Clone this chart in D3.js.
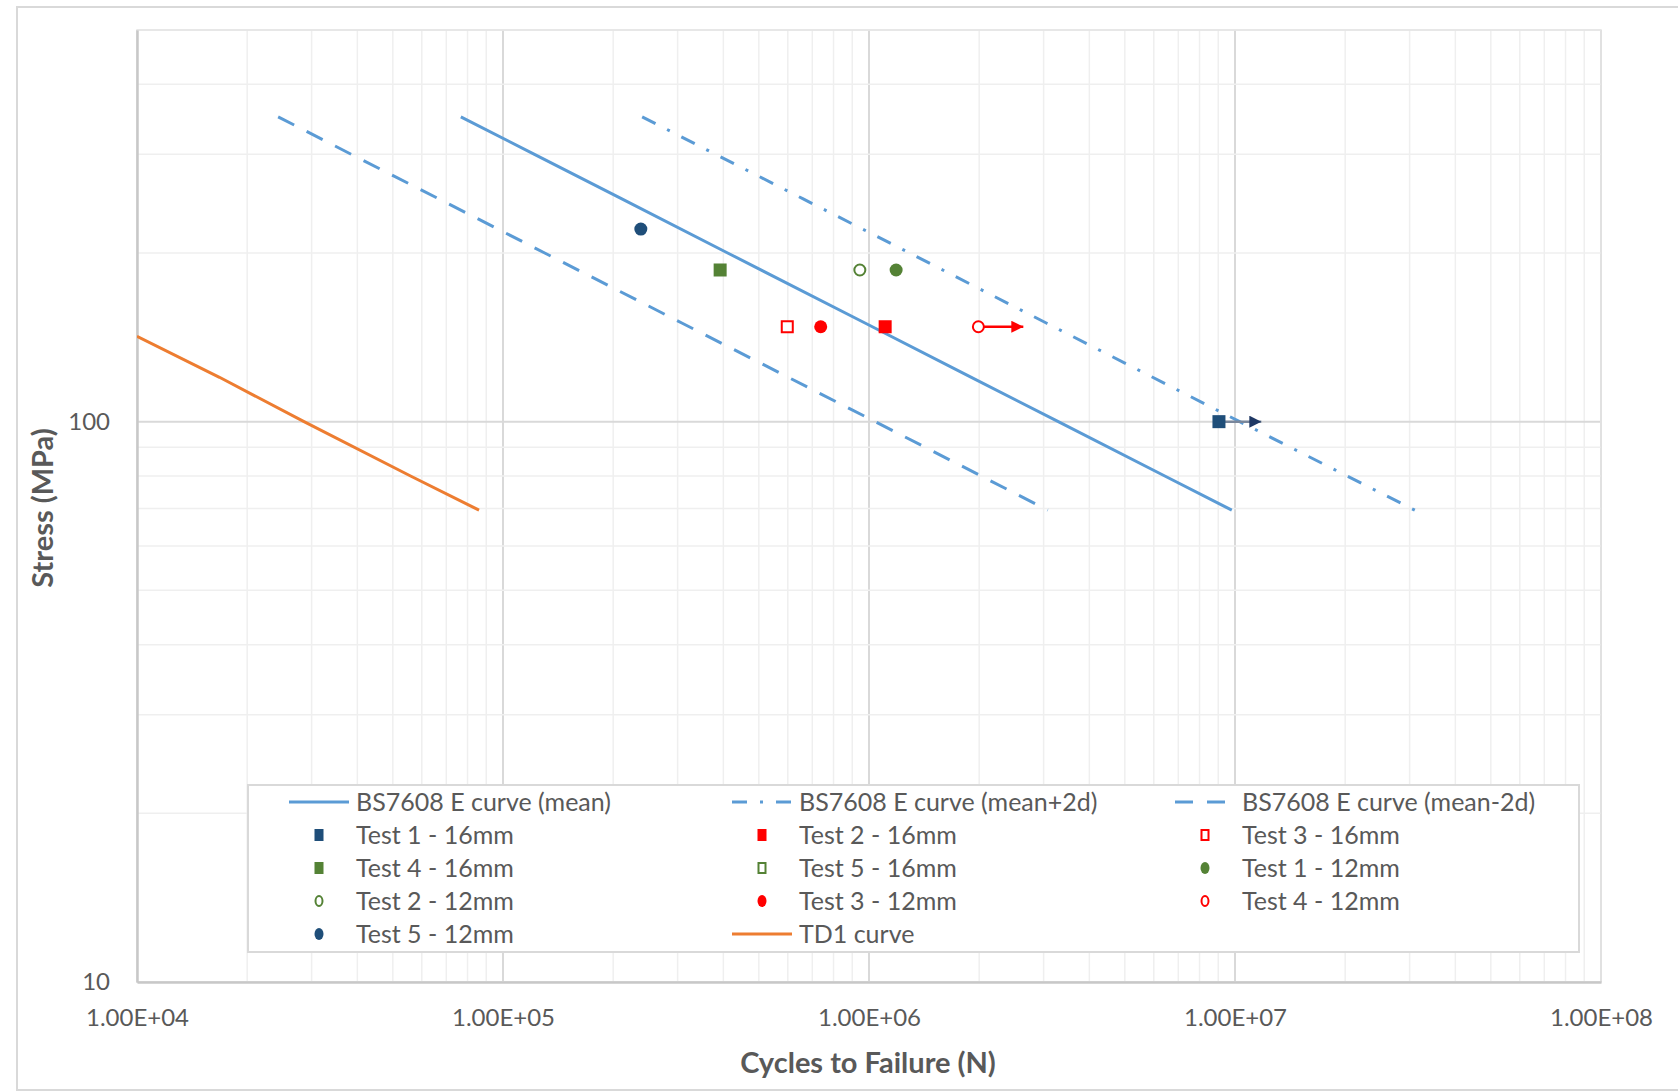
<!DOCTYPE html>
<html>
<head>
<meta charset="utf-8">
<script src="https://cdn.jsdelivr.net/npm/d3@7"></script>
<style>
  body { margin: 0; background: #fff; }
  text { font-family: Lato, "Open Sans", sans-serif; fill: #595959; }
</style>
</head>
<body>
<svg id="chart" width="1678" height="1092"></svg>
<script>
// S-N curves: cycles N against stress range S (MPa)
var meanN = [7.67e4, 1.219e5, 2.106e5, 4.11e5, 9.75e5, 1.904e6, 3.29e6, 6.43e6, 9.8e6];
var meanS = [350, 300, 250, 200, 150, 120, 100, 80, 69.5];
var plus2dN = [2.40e5, 3.81e5, 6.59e5, 1.29e6, 3.05e6, 1.03e7, 3.1e7];
var plus2dS = [350, 300, 250, 200, 150, 100, 69.5];
var minus2dN = [2.43e4, 3.85e4, 6.66e4, 1.30e5, 3.08e5, 1.04e6, 3.08e6];
var minus2dS = [350, 300, 250, 200, 150, 100, 69.5];
var td1N = [1.0e4, 1.68e4, 2.86e4, 5.59e4, 8.6e4];
var td1S = [142, 120, 100, 80, 69.5];

// test results (Test 5 - 16mm has no point on the chart)
var testNames = ['Test 1 - 16mm', 'Test 2 - 16mm', 'Test 3 - 16mm', 'Test 4 - 16mm', 'Test 5 - 16mm',
                 'Test 1 - 12mm', 'Test 2 - 12mm', 'Test 3 - 12mm', 'Test 4 - 12mm', 'Test 5 - 12mm'];
var testN = [9.04e6, 1.107e6, 5.98e5, 3.92e5, null, 1.186e6, 9.44e5, 7.38e5, 1.99e6, 2.38e5];
var testS = [100, 147.7, 147.7, 186.5, null, 186.5, 186.5, 147.7, 147.7, 220.6];

// run-outs: arrow from the test point to this N
var runoutNames = ['Test 1 - 16mm', 'Test 4 - 12mm'];
var runoutToN = [1.18e7, 2.64e6];

var xTicks = [1e4, 1e5, 1e6, 1e7, 1e8];
var yTicks = [10, 100];

var navy = '#1f4e79', green = '#548235', red = '#ff0000';
var blue = '#5b9bd5', orange = '#ed7d31';

var markerStyle = {
  'Test 1 - 16mm': { shape: 'square', color: navy, fill: true },
  'Test 2 - 16mm': { shape: 'square', color: red, fill: true },
  'Test 3 - 16mm': { shape: 'square', color: red, fill: false },
  'Test 4 - 16mm': { shape: 'square', color: green, fill: true },
  'Test 5 - 16mm': { shape: 'square', color: green, fill: false },
  'Test 1 - 12mm': { shape: 'circle', color: green, fill: true },
  'Test 2 - 12mm': { shape: 'circle', color: green, fill: false },
  'Test 3 - 12mm': { shape: 'circle', color: red, fill: true },
  'Test 4 - 12mm': { shape: 'circle', color: red, fill: false },
  'Test 5 - 12mm': { shape: 'circle', color: navy, fill: true }
};

var curves = [
  { name: 'BS7608 E curve (mean)', N: meanN, S: meanS, color: blue, dash: null },
  { name: 'BS7608 E curve (mean+2d)', N: plus2dN, S: plus2dS, color: blue, dash: '15,13,3,13' },
  { name: 'BS7608 E curve (mean-2d)', N: minus2dN, S: minus2dS, color: blue, dash: '18,14' },
  { name: 'TD1 curve', N: td1N, S: td1S, color: orange, dash: null }
];

var legendOrder = ['BS7608 E curve (mean)', 'BS7608 E curve (mean+2d)', 'BS7608 E curve (mean-2d)',
  'Test 1 - 16mm', 'Test 2 - 16mm', 'Test 3 - 16mm',
  'Test 4 - 16mm', 'Test 5 - 16mm', 'Test 1 - 12mm',
  'Test 2 - 12mm', 'Test 3 - 12mm', 'Test 4 - 12mm',
  'Test 5 - 12mm', 'TD1 curve'];

var svg = d3.select('#chart');

// outer chart frame
svg.append('rect')
  .attr('x', 17).attr('y', 7)
  .attr('width', 1700).attr('height', 1083)
  .attr('fill', '#fff').attr('stroke', '#d9d9d9').attr('stroke-width', 2);

var plotLeft = 137, plotRight = 1601, plotTop = 30, plotBottom = 982;

var x = d3.scaleLog().domain([1e4, 1e8]).range([plotLeft, plotRight]);
var y = d3.scaleLog().domain([10, 500]).range([plotBottom, plotTop]);

function isMajor(v) {
  return Math.abs(Math.log10(v) - Math.round(Math.log10(v))) < 1e-9;
}

// grid
var grid = svg.append('g');
grid.selectAll('.vx')
  .data(x.ticks())
  .enter().append('line')
  .attr('x1', d => x(d)).attr('x2', d => x(d))
  .attr('y1', plotTop).attr('y2', plotBottom)
  .attr('stroke', d => isMajor(d) ? '#d9d9d9' : '#efefef')
  .attr('stroke-width', d => isMajor(d) ? 2 : 1.5);
grid.selectAll('.hy')
  .data(y.ticks())
  .enter().append('line')
  .attr('x1', plotLeft).attr('x2', plotRight)
  .attr('y1', d => y(d)).attr('y2', d => y(d))
  .attr('stroke', d => isMajor(d) ? '#d9d9d9' : '#efefef')
  .attr('stroke-width', d => isMajor(d) ? 2 : 1.5);

grid.append('rect')
  .attr('x', plotLeft).attr('y', plotTop)
  .attr('width', plotRight - plotLeft).attr('height', plotBottom - plotTop)
  .attr('fill', 'none').attr('stroke', '#e3e3e3').attr('stroke-width', 1.5);

// axes
function sciFormat(d) {
  var p = d.toExponential(2).split('e');
  var e = +p[1];
  return p[0] + 'E' + (e < 0 ? '-' : '+') + String(Math.abs(e)).padStart(2, '0');
}

var xAxis = svg.append('g')
  .attr('transform', 'translate(0,' + plotBottom + ')')
  .call(d3.axisBottom(x).tickValues(xTicks).tickFormat(sciFormat).tickSize(0).tickPadding(27));
var yAxis = svg.append('g')
  .attr('transform', 'translate(' + plotLeft + ',0)')
  .call(d3.axisLeft(y).tickValues(yTicks).tickFormat(d3.format('d')).tickSize(0).tickPadding(27));

[xAxis, yAxis].forEach(function (a) {
  a.select('.domain').attr('stroke', '#c8c8c8').attr('stroke-width', 2.5);
  a.selectAll('text').style('font-size', '24px').attr('fill', '#595959');
});
xAxis.selectAll('text').attr('dy', '0.71em');

svg.append('text')
  .attr('x', 868).attr('y', 1073)
  .attr('text-anchor', 'middle')
  .style('font-size', '29px').style('font-weight', 'bold')
  .text('Cycles to Failure (N)');

svg.append('text')
  .attr('transform', 'translate(53,508) rotate(-90)')
  .attr('text-anchor', 'middle')
  .style('font-size', '29px').style('font-weight', 'bold')
  .text('Stress (MPa)');

// curves
svg.append('clipPath').attr('id', 'plot-clip')
  .append('rect').attr('x', plotLeft).attr('y', plotTop)
  .attr('width', plotRight - plotLeft).attr('height', plotBottom - plotTop);

var line = d3.line().x(d => x(d[0])).y(d => y(d[1]));

var plot = svg.append('g').attr('clip-path', 'url(#plot-clip)');
plot.selectAll('.curve')
  .data(curves)
  .enter().append('path')
  .attr('d', d => line(d3.zip(d.N, d.S)))
  .attr('fill', 'none')
  .attr('stroke', d => d.color)
  .attr('stroke-width', 3)
  .attr('stroke-dasharray', d => d.dash);

// run-out arrows
var defs = svg.append('defs');
function arrowId(color) { return 'arrow' + color.replace('#', ''); }
['#1f3864', red].forEach(function (c) {
  defs.append('marker')
    .attr('id', arrowId(c))
    .attr('viewBox', '0 0 10 10')
    .attr('refX', 10).attr('refY', 5)
    .attr('markerUnits', 'userSpaceOnUse')
    .attr('markerWidth', 14).attr('markerHeight', 12)
    .attr('orient', 'auto')
    .append('path').attr('d', 'M0,0L10,5L0,10Z').attr('fill', c);
});

runoutNames.forEach(function (name, i) {
  var k = testNames.indexOf(name);
  var isRed = markerStyle[name].color === red;
  plot.append('line')
    .attr('x1', x(testN[k])).attr('x2', x(runoutToN[i]))
    .attr('y1', y(testS[k])).attr('y2', y(testS[k]))
    .attr('stroke', isRed ? red : '#7a879b')
    .attr('stroke-width', 2.5)
    .attr('marker-end', 'url(#' + arrowId(isRed ? red : '#1f3864') + ')');
});

// test markers
function drawMarker(sel, st, w, h) {
  var sw = st.fill ? 0 : 2;
  if (st.shape === 'square') {
    sel.append('rect')
      .attr('x', -w / 2 + sw / 2).attr('y', -h / 2 + sw / 2)
      .attr('width', w - sw).attr('height', h - sw)
      .attr('fill', st.fill ? st.color : '#fff')
      .attr('stroke', st.color).attr('stroke-width', sw);
  } else {
    sel.append('ellipse')
      .attr('rx', w / 2 - sw / 2).attr('ry', h / 2 - sw / 2)
      .attr('fill', st.fill ? st.color : '#fff')
      .attr('stroke', st.color).attr('stroke-width', sw);
  }
}

var points = testNames.map((n, i) => ({ name: n, N: testN[i], S: testS[i] }))
  .filter(d => d.N != null);

plot.selectAll('.pt')
  .data(points)
  .enter().append('g')
  .attr('transform', d => 'translate(' + x(d.N) + ',' + y(d.S) + ')')
  .each(function (d) { drawMarker(d3.select(this), markerStyle[d.name], 13, 13); });

// legend
var legend = svg.append('g');
legend.append('rect')
  .attr('x', 248).attr('y', 785)
  .attr('width', 1331).attr('height', 167)
  .attr('fill', '#fff').attr('stroke', '#d9d9d9').attr('stroke-width', 2);

legendOrder.forEach(function (name, i) {
  var col = i % 3, row = Math.floor(i / 3);
  var lx = 289 + col * 443, ly = 802 + row * 33;
  var g = legend.append('g');
  var curve = curves.find(c => c.name === name);
  if (curve) {
    g.append('line')
      .attr('x1', lx).attr('x2', lx + 60)
      .attr('y1', ly).attr('y2', ly)
      .attr('stroke', curve.color).attr('stroke-width', 3)
      .attr('stroke-dasharray', curve.dash);
  } else {
    var m = g.append('g').attr('transform', 'translate(' + (lx + 30) + ',' + ly + ')');
    drawMarker(m, markerStyle[name], 9, 12);
  }
  g.append('text')
    .attr('x', lx + 67).attr('y', ly)
    .attr('dy', '0.35em')
    .style('font-size', '25px')
    .text(name);
});
</script>
</body>
</html>
